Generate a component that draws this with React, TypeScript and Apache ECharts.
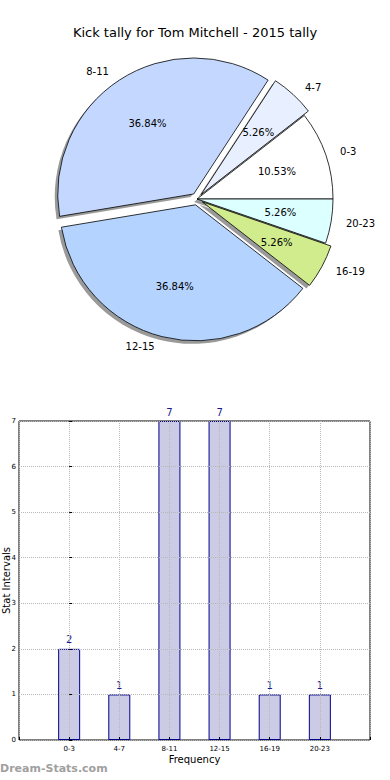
import React, { useEffect, useRef } from "react";
import * as echarts from "echarts";

const categories = ["0-3", "4-7", "8-11", "12-15", "16-19", "20-23"];
const counts = [2, 1, 7, 7, 1, 1];
const pieColors = ["#ffffff", "#e8f0ff", "#c4d8ff", "#b4d4ff", "#d0ec8c", "#dcffff"];
const exploded = [false, true, true, true, true, false];
const yTicks = [0, 1, 2, 3, 4, 5, 6, 7];

const FONT = "DejaVu Sans";

export default function App() {
  const ref = useRef<HTMLDivElement>(null);
  useEffect(() => {
    if (!ref.current) return;
    const chart = echarts.init(ref.current, null, { renderer: "svg" });
    const cx = 197;
    const cy = 199;
    const R = 136;
    const total = counts.reduce((a, b) => a + b, 0);
    const pieData = (fill: (i: number) => string) =>
      categories.map((c, i) => ({
        name: c,
        value: counts[i],
        selected: exploded[i],
        itemStyle: { color: fill(i) },
      }));
    const commonPie = {
      type: "pie",
      startAngle: 0,
      clockwise: false,
      selectedMode: "multiple",
      selectedOffset: 6,
      avoidLabelOverlap: false,
      animation: false,
      emphasis: { disabled: true },
    };
    chart.setOption({
      animation: false,
      backgroundColor: "#ffffff",
      textStyle: { fontFamily: FONT },
      title: {
        text: "Kick tally for Tom Mitchell - 2015 tally",
        left: "center",
        top: 21,
        textStyle: { fontSize: 13, fontWeight: "normal", color: "#000", fontFamily: FONT },
      },
      graphic: [
        {
          type: "text",
          left: 0,
          top: 763,
          style: {
            text: "Dream-Stats.com",
            fill: "#a0a0a0",
            font: `bold 11px "${FONT}"`,
          },
        },
      ],
      grid: {
        left: 19,
        top: 421,
        width: 351,
        height: 319,
        containLabel: false,
        outerBoundsMode: "none",
        show: true,
        borderColor: "#000",
        borderWidth: 1,
        backgroundColor: "transparent",
      },
      xAxis: {
        type: "value",
        min: -1,
        max: 6,
        interval: 1,
        z: 3,
        name: "Frequency",
        nameLocation: "middle",
        nameGap: 14,
        nameMoveOverlap: false,
        nameTextStyle: { fontSize: 10, color: "#000", fontFamily: FONT },
        axisLine: { show: false },
        axisTick: { show: true, inside: true, length: 3, lineStyle: { color: "#000" } },
        axisLabel: {
          fontSize: 7,
          color: "#000",
          margin: 5,
          fontFamily: FONT,
          formatter: (v: number) => categories[v] ?? "",
        },
        splitLine: { show: true, lineStyle: { color: "#b8b8b8", type: "dotted", width: 1 } },
      },
      yAxis: {
        type: "value",
        min: 0,
        max: 7,
        interval: 1,
        z: 3,
        name: "Stat Intervals",
        nameLocation: "middle",
        nameGap: 8,
        nameMoveOverlap: false,
        nameRotate: 90,
        nameTextStyle: { fontSize: 10, color: "#000", fontFamily: FONT },
        axisLine: { show: false },
        axisTick: { show: true, inside: true, length: 3, lineStyle: { color: "#000" } },
        axisLabel: {
          fontSize: 7,
          color: "#000",
          margin: 3,
          fontFamily: FONT,
          formatter: (v: number) => (yTicks.includes(v) ? String(v) : ""),
        },
        splitLine: { show: true, lineStyle: { color: "#b8b8b8", type: "dotted", width: 1 } },
      },
      series: [
        {
          ...commonPie,
          silent: true,
          center: [cx - 3, cy + 3],
          radius: [0, R],
          label: { show: false },
          labelLine: { show: false },
          itemStyle: { borderWidth: 0 },
          data: pieData(() => "#9a9a9a"),
          z: 1,
        },
        {
          ...commonPie,
          center: [cx, cy],
          radius: [0, R],
          itemStyle: { borderColor: "#000", borderWidth: 0.8 },
          label: {
            show: true,
            position: "outside",
            fontSize: 10,
            color: "#000",
            fontFamily: FONT,
            formatter: "{b}",
          },
          labelLine: { show: false, length: 10, length2: 0 },
          data: pieData((i) => pieColors[i]),
          z: 2,
        },
        {
          ...commonPie,
          silent: true,
          center: [cx, cy],
          radius: [R * 0.2, R],
          itemStyle: { borderWidth: 0 },
          label: {
            show: true,
            position: "inside",
            fontSize: 10,
            color: "#000",
            fontFamily: FONT,
            formatter: (p: any) => ((p.value / total) * 100).toFixed(2) + "%",
          },
          labelLine: { show: false },
          data: pieData(() => "rgba(0,0,0,0)"),
          z: 3,
        },
        {
          type: "bar",
          barWidth: 22,
          z: 2,
          itemStyle: { color: "#cbcbe5", borderColor: "#00008b", borderWidth: 1 },
          label: {
            show: true,
            position: "top",
            distance: 4,
            fontSize: 10,
            color: "#1a1a8c",
            fontFamily: FONT,
            formatter: (p: any) => String(p.value[1]),
          },
          data: categories.map((c, i) => [i, counts[i]]),
        },
      ],
    });
    return () => chart.dispose();
  }, []);
  return (
    <div
      ref={ref}
      style={{ position: "fixed", left: 0, top: 0, width: 390, height: 780 }}
    />
  );
}
